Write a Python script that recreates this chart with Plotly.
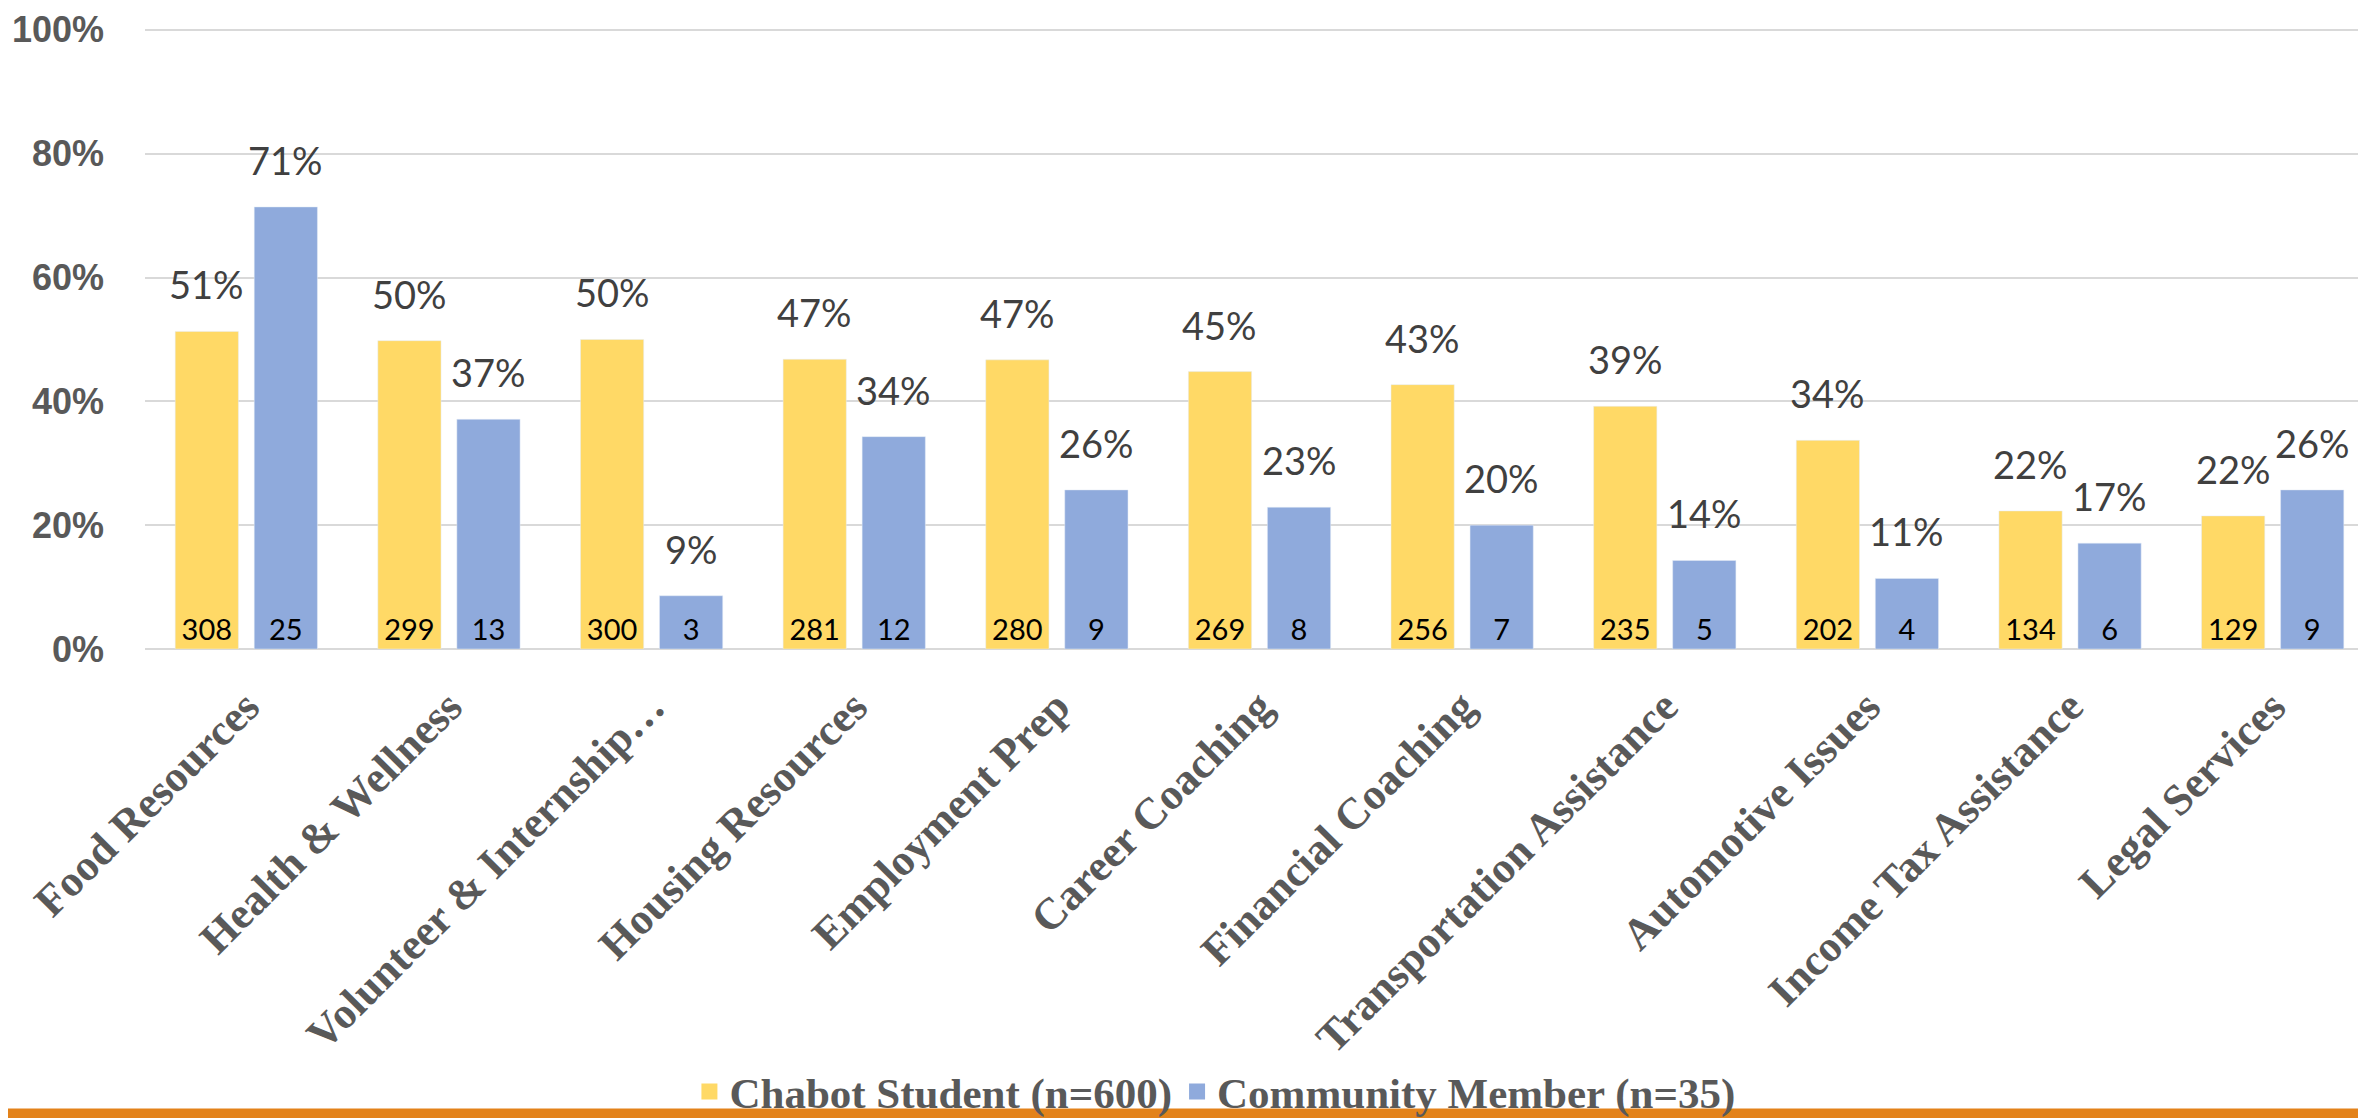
import plotly.graph_objects as go

# Services used, share of respondents in each group
categories = [
    "Food Resources", "Health & Wellness", "Volunteer & Internship…",
    "Housing Resources", "Employment Prep", "Career Coaching",
    "Financial Coaching", "Transportation Assistance", "Automotive Issues",
    "Income Tax Assistance", "Legal Services",
]

student_pct = [0.513, 0.498, 0.500, 0.468, 0.467, 0.448, 0.427, 0.392, 0.337, 0.223, 0.215]
student_labels = ["51%", "50%", "50%", "47%", "47%", "45%", "43%", "39%", "34%", "22%", "22%"]
student_counts = [308, 299, 300, 281, 280, 269, 256, 235, 202, 134, 129]

community_pct = [0.714, 0.371, 0.086, 0.343, 0.257, 0.229, 0.200, 0.143, 0.114, 0.171, 0.257]
community_labels = ["71%", "37%", "9%", "34%", "26%", "23%", "20%", "14%", "11%", "17%", "26%"]
community_counts = [25, 13, 3, 12, 9, 8, 7, 5, 4, 6, 9]

series_names = ['Chabot Student (n=600)', 'Community Member (n=35)']

colors = {
    'student': '#FFD966',
    'community': '#8FAADC',
    'grid': '#D9D9D9',
    'axis_text': '#595959',
    'label': '#404040',
    'accent': '#E3821A',
}

W, H = 2366, 1118
margin = dict(l=137, r=0, t=20, b=471)
bargap, bargroupgap = 0.22, 0.2

fig = go.Figure()

for name, vals, counts, col in [
    (series_names[0], student_pct, student_counts, colors['student']),
    (series_names[1], community_pct, community_counts, colors['community']),
]:
    fig.add_trace(go.Bar(
        x=categories, y=vals,
        name=name, showlegend=False,
        marker_color=col,
        text=counts, textposition='inside', insidetextanchor='start',
        textangle=0, constraintext='none',
        insidetextfont=dict(family='Lato', size=29, color='black'),
    ))
    # legend entry with a bigger square swatch
    fig.add_trace(go.Scatter(
        x=[None], y=[None], mode='markers', name=name,
        marker=dict(symbol='square', size=22, color=col),
    ))

# percentage labels above each bar, shifted to the bar's slot in the group
cat_px = (W - margin['l'] - margin['r']) / len(categories)
slot = cat_px * (1 - bargap) / 2
for labels, values, side in [(student_labels, student_pct, -1), (community_labels, community_pct, 1)]:
    for cat, val, lab in zip(categories, values, labels):
        fig.add_annotation(
            x=cat, y=val, text=lab, showarrow=False,
            xanchor='center', yanchor='bottom',
            xshift=side * slot / 2, yshift=22,
            font=dict(family='Lato', size=38, color=colors['label']),
        )

# orange rule along the bottom edge
plot_h = H - margin['t'] - margin['b']
fig.add_shape(
    type='rect', xref='paper', yref='paper',
    x0=-0.1, x1=1.1,
    y0=-(1111 - (H - margin['b'])) / plot_h, y1=-(H + 5 - (H - margin['b'])) / plot_h,
    fillcolor=colors['accent'], line_width=0, layer='below',
)

fig.update_layout(
    width=W, height=H,
    margin=margin,
    paper_bgcolor='white',
    plot_bgcolor='white',
    barmode='group',
    bargap=bargap,
    bargroupgap=bargroupgap,
    showlegend=True,
    legend=dict(
        orientation='h', x=0.48, xanchor='center',
        y=-(1094 - (H - margin['b'])) / plot_h, yanchor='middle',
        font=dict(family='Liberation Serif', size=43, color=colors['axis_text'], weight='bold'),
        itemsizing='trace', tracegroupgap=0,
        bgcolor='rgba(0,0,0,0)',
    ),
    xaxis=dict(
        tickangle=-45,
        tickfont=dict(family='Liberation Serif', size=44, color=colors['axis_text'], weight='bold'),
        showgrid=False, showline=False, automargin=False,
        ticklabelstandoff=22,
    ),
    yaxis=dict(
        range=[0, 1.003], tickvals=[0, 0.2, 0.4, 0.6, 0.8, 1.0], tickformat='.0%',
        tickfont=dict(family='Liberation Sans', size=36, color=colors['axis_text'], weight='bold'),
        gridcolor=colors['grid'], gridwidth=2,
        zeroline=True, zerolinecolor=colors['grid'], zerolinewidth=2,
        ticklabelstandoff=40, automargin=False,
    ),
)

fig.write_html("out.html")
